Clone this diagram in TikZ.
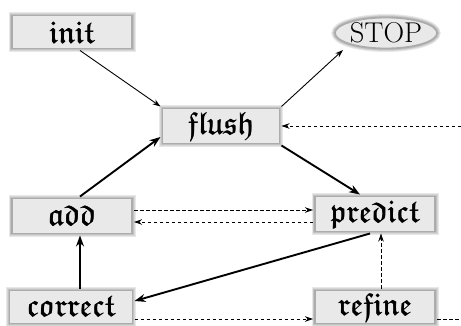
\documentclass[tikz,border=0pt]{standalone}
\usepackage{amssymb}
\usepackage{graphicx}
\usetikzlibrary{arrows.meta,shapes.geometric}
\newcommand{\fk}[1]{\scalebox{1.28}{\rlap{$\mathfrak{#1}$}\kern0.3pt$\mathfrak{#1}$}}
\begin{document}
\begin{tikzpicture}[x=1pt,y=1pt,
  box/.style={rectangle, minimum width=120pt, minimum height=33pt, inner sep=0pt, outer sep=2pt,
    fill=gray!17, draw=gray!65, line width=1.8pt,
    preaction={draw=gray!18, line width=7pt},
    preaction={draw=gray!32, line width=5pt},
    preaction={draw=gray!48, line width=3.4pt},
    font=\fontsize{24.88}{28}\selectfont},
  oval/.style={ellipse, minimum width=98pt, minimum height=31pt, inner sep=0pt, outer sep=2pt,
    fill=gray!17, draw=gray!65, line width=1.8pt,
    preaction={draw=gray!18, line width=7pt},
    preaction={draw=gray!32, line width=5pt},
    preaction={draw=gray!48, line width=3.4pt},
    font=\fontsize{24.88}{28}\selectfont},
  thinarr/.style={line width=0.9pt, -{Stealth[length=8pt,width=5.5pt]}},
  thickarr/.style={line width=1.9pt, -{Stealth[length=11pt,width=8pt]}},
  dasharr/.style={line width=0.9pt, dash pattern=on 3.5pt off 2.5pt, -{Stealth[length=8pt,width=5.5pt]}},
  dashplain/.style={line width=0.9pt, dash pattern=on 3.5pt off 2.5pt}]
\useasboundingbox (0,0) rectangle (461,325);
\node[box] (init) at (72,293) {\fk{init}};
\node[oval] (STOP) at (386,292) {\scalebox{1.15}{STOP}};
\node[box, minimum width=117pt, minimum height=35pt] (flush) at (221,199) {\fk{flush}};
\node[box, minimum height=35pt] (add) at (72,109) {\fk{add}};
\node[box, minimum height=35pt] (predict) at (375,111) {\fk{predict}};
\node[box, minimum width=123pt] (correct) at (71,18) {\fk{correct}};
\node[box] (refine) at (375,18) {\fk{refine}};
\coordinate (inR) at (461,199);
\coordinate (outR) at (461,6);

\draw[thinarr] ([xshift=8pt]init.south) -- (flush.north west);
\draw[thinarr] (flush.north east) -- ([shift={(-43pt,-17pt)}]STOP.center);
\draw[dasharr] (inR) -- (flush.east);
\draw[thickarr] (flush.south east) -- ([xshift=-15pt]predict.north);
\draw[thickarr] ([xshift=8pt]add.north) -- ([yshift=-11pt]flush.west);
\draw[dasharr] ([yshift=6pt]add.east) -- ([yshift=6pt]add.east -| predict.west);
\draw[dasharr] ([yshift=-6pt]add.east -| predict.west) -- ([yshift=-6pt]add.east);
\draw[thickarr] ([xshift=-5pt]predict.south) -- ([yshift=6pt]correct.east);
\draw[thickarr] ([xshift=9pt]correct.north) -- ([xshift=9pt]correct.north |- add.south);
\draw[dasharr] ([yshift=-12pt]correct.east) -- ([yshift=-12pt]correct.east -| refine.west);
\draw[dasharr] ([xshift=6pt]refine.north) -- ([xshift=6pt]refine.north |- predict.south);
\draw[dashplain] ([yshift=-12pt]refine.east) -- (outR);
\end{tikzpicture}
\end{document}
